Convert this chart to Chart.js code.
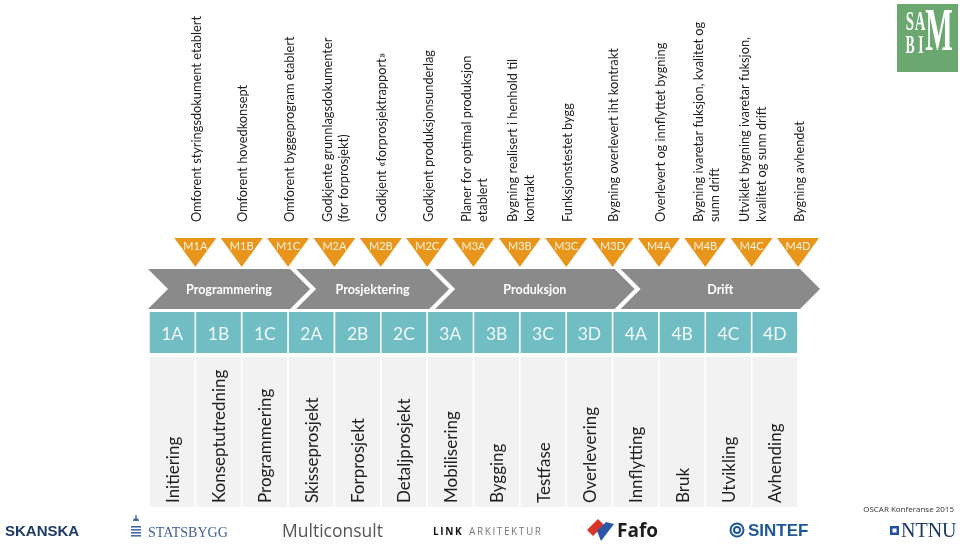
<!DOCTYPE html>
<html>
<head>
<meta charset="utf-8">
<script src="https://cdn.jsdelivr.net/npm/chart.js@4.4.0/dist/chart.umd.min.js"></script>
<style>
  html, body { margin: 0; padding: 0; background: #fff; }
  canvas { display: block; }
</style>
</head>
<body>
<canvas id="c" width="960" height="545"></canvas>
<script>
// phases (columns), left to right
const phases = ["1A","1B","1C","2A","2B","2C","3A","3B","3C","3D","4A","4B","4C","4D"];
const phaseNames = ["Initiering","Konseptutredning","Programmering","Skisseprosjekt","Forprosjekt","Detaljprosjekt",
  "Mobilisering","Bygging","Testfase","Overlevering","Innflytting","Bruk","Utvikling","Avhending"];
// milestone at the end of each phase
const milestones = ["M1A","M1B","M1C","M2A","M2B","M2C","M3A","M3B","M3C","M3D","M4A","M4B","M4C","M4D"];
const milestoneText = [
  ["Omforent styringsdokument etablert"],
  ["Omforent hovedkonsept"],
  ["Omforent byggeprogram etablert"],
  ["Godkjente grunnlagsdokumenter", "(for forprosjekt)"],
  ["Godkjent «forprosjektrapport»"],
  ["Godkjent produksjonsunderlag"],
  ["Planer for optimal produksjon", "etablert"],
  ["Bygning realisert i henhold til", "kontrakt"],
  ["Funksjonstestet bygg"],
  ["Bygning overlevert iht kontrakt"],
  ["Overlevert og innflyttet bygning"],
  ["Bygning ivaretar fuksjon, kvalitet og", "sunn drift"],
  ["Utviklet bygning ivaretar fuksjon,", "kvalitet og sunn drift"],
  ["Bygning avhendet"]
];
const stages = ["Programmering","Prosjektering","Produksjon","Drift"];
const stageSize = [3, 3, 4, 4]; // number of phases in each stage

const COL = { teal: "#70bdc3", grey: "#8a8a8a", orange: "#e8961b", cell: "#f2f2f2", text: "#1e1e1e" };
const FONT = "Lato, 'Open Sans', sans-serif";

function rotText(ctx, txt, x, y) {
  ctx.save(); ctx.translate(x, y); ctx.rotate(-Math.PI / 2);
  ctx.fillText(txt, 0, 0); ctx.restore();
}
// condensed letter (used for the SAMBIM mark)
function narrow(ctx, ch, x, y, size, sx) {
  ctx.save(); ctx.translate(x, y); ctx.scale(sx, 1);
  ctx.font = "bold " + size + "px 'Liberation Serif', serif";
  ctx.fillText(ch, 0, 0); ctx.restore();
}

const diagram = {
  id: "diagram",
  beforeDatasetsDraw(chart) {
    const ctx = chart.ctx, x = chart.scales.x;
    const edge = k => x.getPixelForValue(k - 0.5);
    const w = edge(1) - edge(0);
    ctx.save();
    // light cells under the phase row
    ctx.fillStyle = COL.cell;
    phases.forEach((p, i) => ctx.fillRect(edge(i) + 0.8, 357, w - 1.6, 150));
    // stage chevrons
    let s = 0;
    stages.forEach((st, g) => {
      const e = s + stageSize[g];
      const l = g === 0 ? edge(0) - 1 : edge(s) + 8, r = edge(e) + 2, d = 20;
      const top = 269, bot = 309, mid = 289;
      ctx.fillStyle = COL.grey;
      ctx.beginPath();
      ctx.moveTo(l, top); ctx.lineTo(r, top); ctx.lineTo(r + d, mid);
      ctx.lineTo(r, bot); ctx.lineTo(l, bot); ctx.lineTo(l + d, mid);
      ctx.closePath(); ctx.fill();
      ctx.fillStyle = "#fff"; ctx.font = "bold 12.5px " + FONT;
      ctx.textAlign = "center"; ctx.textBaseline = "middle";
      ctx.fillText(st, (l + r + d) / 2, mid + 1);
      s = e;
    });
    // milestone triangles + texts
    milestones.forEach((m, i) => {
      const cx = edge(i + 1);
      ctx.fillStyle = COL.orange;
      ctx.beginPath();
      ctx.moveTo(cx - 21, 238); ctx.lineTo(cx + 21, 238); ctx.lineTo(cx, 267);
      ctx.closePath(); ctx.fill();
      ctx.fillStyle = "#fdf3e0"; ctx.font = "11px " + FONT;
      ctx.textAlign = "center"; ctx.textBaseline = "middle";
      ctx.fillText(m, cx, 246);
      const lines = milestoneText[i];
      ctx.fillStyle = COL.text; ctx.font = "12.8px " + FONT;
      ctx.textAlign = "left";
      lines.forEach((t, j) => rotText(ctx, t, cx + 1.5 + (j - (lines.length - 1) / 2) * 16.5, 222));
    });
    ctx.restore();
  },
  afterDatasetsDraw(chart) {
    const ctx = chart.ctx, x = chart.scales.x;
    ctx.save();
    ctx.textAlign = "center"; ctx.textBaseline = "middle";
    phases.forEach((p, i) => {
      const cx = x.getPixelForValue(i);
      ctx.fillStyle = "#f2f9f9"; ctx.font = "17.5px " + FONT;
      ctx.fillText(p, cx, 334);
      ctx.fillStyle = COL.text; ctx.font = "17px " + FONT;
      ctx.textAlign = "left";
      rotText(ctx, phaseNames[i], cx + 1, 503);
      ctx.textAlign = "center";
    });
    ctx.restore();
  },
  afterDraw(chart) {
    const ctx = chart.ctx;
    ctx.save();
    ctx.textBaseline = "middle"; ctx.textAlign = "left";
    // SAMBIM logo
    ctx.fillStyle = "#6ba870"; ctx.fillRect(897, 4, 61, 68);
    ctx.fillStyle = "#fff"; ctx.textAlign = "center";
    narrow(ctx, "S", 910, 23, 27, 0.55); narrow(ctx, "A", 920, 23, 27, 0.55);
    narrow(ctx, "B", 910, 47, 25, 0.55); narrow(ctx, "I", 921, 47, 25, 0.55);
    narrow(ctx, "M", 939, 34, 62, 0.47);
    ctx.textAlign = "left";
    // partner logos
    ctx.fillStyle = "#1b3a66"; ctx.font = "900 15px 'Liberation Sans', sans-serif";
    ctx.fillText("SKANSKA", 5, 532);
    ctx.fillStyle = "#4a6ea6";
    for (let k = 0; k < 4; k++) ctx.fillRect(131, 526 + k * 3, 10, 1.6);
    ctx.beginPath(); ctx.arc(136, 521, 3, Math.PI, 0); ctx.fill();
    ctx.fillRect(135.3, 515, 1.4, 4);
    ctx.fillStyle = "#3e5f96"; ctx.font = "14px 'Liberation Serif', serif";
    ctx.fillText("STATSBYGG", 148, 533);
    ctx.fillStyle = "#555"; ctx.font = "17.5px 'Open Sans', sans-serif";
    ctx.fillText("Multiconsult", 282, 532);
    ctx.letterSpacing = "1.6px";
    ctx.fillStyle = "#111"; ctx.font = "bold 10px 'Open Sans', sans-serif";
    ctx.fillText("LINK", 433, 532);
    ctx.fillStyle = "#777"; ctx.font = "10px 'Open Sans', sans-serif";
    ctx.fillText("ARKITEKTUR", 469, 532);
    ctx.letterSpacing = "0px";
    // Fafo mark
    ctx.fillStyle = "#d8352a";
    ctx.beginPath(); ctx.moveTo(587, 530); ctx.lineTo(598, 519); ctx.lineTo(604, 525); ctx.lineTo(593, 536); ctx.closePath(); ctx.fill();
    ctx.fillStyle = "#2b55a5";
    ctx.beginPath(); ctx.moveTo(597, 531); ctx.lineTo(606, 522); ctx.lineTo(614, 524); ctx.lineTo(601, 541); ctx.closePath(); ctx.fill();
    ctx.fillStyle = "#1e1e1e"; ctx.font = "bold 19px 'Open Sans', sans-serif";
    ctx.fillText("Fafo", 617, 532);
    // SINTEF
    ctx.strokeStyle = "#1f5896"; ctx.lineWidth = 2;
    ctx.beginPath(); ctx.arc(737, 530, 6.5, 0, Math.PI * 2); ctx.stroke();
    ctx.beginPath(); ctx.arc(737, 530, 3, 0, Math.PI * 2); ctx.stroke();
    ctx.fillStyle = "#1f5896"; ctx.font = "bold 17px 'Liberation Sans', sans-serif";
    ctx.fillText("SINTEF", 748, 531);
    // NTNU
    ctx.fillStyle = "#2450a0"; ctx.fillRect(890, 526, 9, 9);
    ctx.fillStyle = "#fff"; ctx.fillRect(892.5, 528.5, 4, 4);
    ctx.fillStyle = "#1d3a6b"; ctx.font = "20px 'Liberation Serif', serif";
    ctx.fillText("NTNU", 901, 532);
    ctx.fillStyle = "#333"; ctx.font = "8px 'Open Sans', sans-serif";
    ctx.textAlign = "right";
    ctx.fillText("OSCAR Konferanse 2015", 954, 510);
    ctx.restore();
  }
};

new Chart(document.getElementById("c"), {
  type: "bar",
  data: {
    labels: phases,
    datasets: [{
      data: phases.map(() => 1),
      backgroundColor: COL.teal,
      borderWidth: 0,
      barPercentage: 1,
      categoryPercentage: 0.965
    }]
  },
  options: {
    responsive: false,
    animation: false,
    events: [],
    layout: { padding: { left: 149, right: 162, top: 312, bottom: 192 } },
    scales: { x: { display: false }, y: { display: false, min: 0, max: 1 } },
    plugins: { legend: { display: false }, tooltip: { enabled: false } }
  },
  plugins: [diagram]
});
</script>
</body>
</html>
